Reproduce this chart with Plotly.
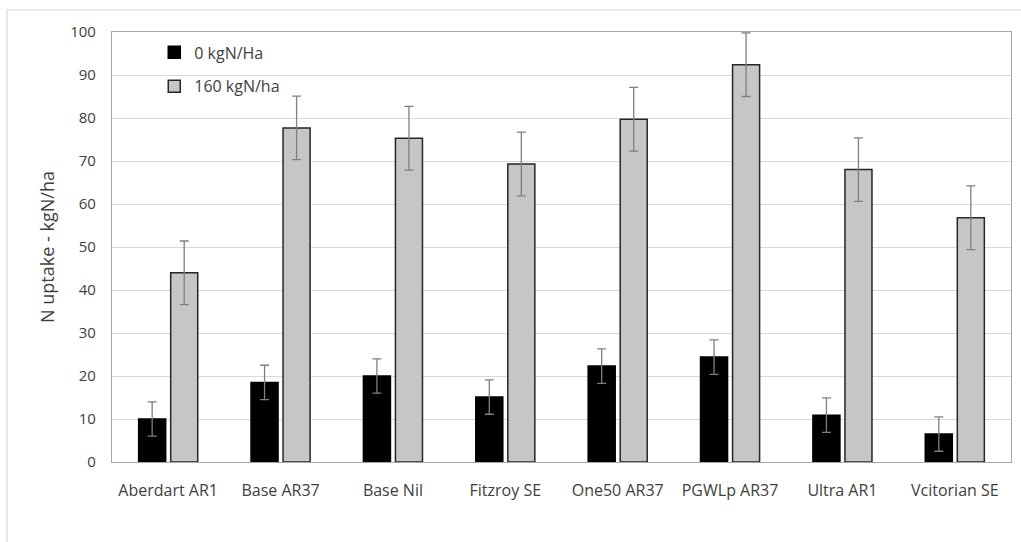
import plotly.graph_objects as go

categories = ["Aberdart AR1", "Base AR37", "Base Nil", "Fitzroy SE",
              "One50 AR37", "PGWLp AR37", "Ultra AR1", "Vcitorian SE"]
n0_values = [10.0, 18.5, 20.0, 15.1, 22.3, 24.4, 10.9, 6.5]
n0_errors = [4.0, 4.0, 4.0, 4.0, 4.0, 4.0, 4.0, 4.0]
n160_values = [44.0, 77.7, 75.3, 69.3, 79.7, 92.4, 68.0, 56.8]
n160_errors = [7.4, 7.4, 7.4, 7.4, 7.4, 7.4, 7.4, 7.4]
series_names = ["0 kgN/Ha", "160 kgN/ha"]
y_ticks = list(range(0, 101, 10))

FONT = "Open Sans"
TXT = "#404040"

fig = go.Figure()
fig.add_trace(go.Bar(
    x=categories, y=n0_values, name=series_names[0], legendgroup="a",
    marker=dict(color="#000000", line=dict(color="#000000", width=1.5)),
    error_y=dict(type="data", array=n0_errors, color="#7f7f7f", thickness=1.3, width=4.5),
))
fig.add_trace(go.Bar(
    x=categories, y=n160_values, name=series_names[1], legendgroup="b",
    marker=dict(color="#c6c6c6", line=dict(color="#262626", width=1.5)),
    error_y=dict(type="data", array=n160_errors, color="#7f7f7f", thickness=1.3, width=4.5),
))

fig.update_layout(
    width=1021, height=542,
    margin=dict(l=112, r=10, t=32, b=80),
    paper_bgcolor="white", plot_bgcolor="white",
    barmode="group", bargap=0.43, bargroupgap=0.156,
    font=dict(family=FONT, size=15, color=TXT),
    showlegend=True,
    legend=dict(x=0.047, y=0.992, xanchor="left", yanchor="top", traceorder="grouped",
                bgcolor="rgba(0,0,0,0)", font=dict(size=16, color=TXT),
                tracegroupgap=10, itemwidth=30),
    xaxis=dict(showgrid=False, showline=True, linecolor="#a6a6a6", mirror=True,
               ticks="", tickfont=dict(size=16, color=TXT), linewidth=1.2,
               ticklabelstandoff=14),
    yaxis=dict(range=[0, 100], tickvals=y_ticks, showgrid=True, gridcolor="#d9d9d9",
               gridwidth=1.2, showline=True, linecolor="#a6a6a6", mirror=True, linewidth=1.2,
               ticks="", tickfont=dict(size=15, color=TXT), zeroline=False,
               ticklabelstandoff=12,
               title=dict(text="N uptake - kgN/ha", font=dict(size=18, color=TXT), standoff=10)),
    shapes=[dict(type="rect", xref="paper", yref="paper",
                 x0=-0.1168, x1=1.2, y0=-0.5, y1=1.0512,
                 line=dict(color="#d9d9d9", width=1.2), fillcolor="rgba(0,0,0,0)", layer="below")],
)

fig.write_html("out.html", config={"displayModeBar": False},
               post_script="document.body.style.margin='0px';")
